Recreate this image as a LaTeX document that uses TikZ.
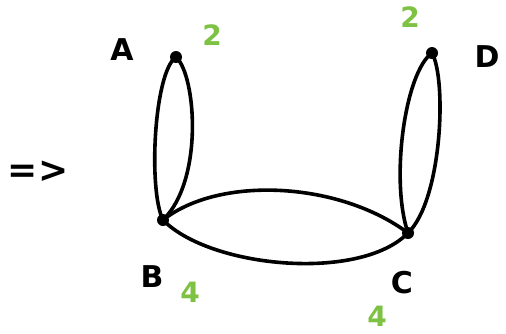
\documentclass[tikz,border=0pt]{standalone}
\usepackage{fontspec}
\setsansfont{DejaVu Sans}
\usetikzlibrary{positioning}
\definecolor{degreegreen}{HTML}{7DC242}

\begin{document}
\begin{tikzpicture}[x=1pt,y=-1pt,
  vertex/.style={circle,fill=black,inner sep=0pt,minimum size=12pt},
  edge/.style={line width=3.6pt,line cap=round},
  vname/.style={font=\sffamily\bfseries\fontsize{30}{30}\selectfont},
  degree/.style={font=\sffamily\bfseries\fontsize{28}{28}\selectfont,text=degreegreen}]

  \useasboundingbox (0,0) rectangle (506,333);

  % ---- Vertices ------------------------------------------------
  \node[vertex] (A) at (176,57) {};
  \node[vertex] (B) at (163,220) {};
  \node[vertex] (C) at (408,233) {};
  \node[vertex] (D) at (432,53) {};

  % Vertex names
  \node[vname] (nameA) at (122,50) {A};
  \node[vname] (nameB) at (152,277) {B};
  \node[vname] (nameC) at (402,283) {C};
  \node[vname] (nameD) at (487,57) {D};

  % Degrees
  \node[degree] (degA) at (212,35) {2};
  \node[degree] (degD) at (410,17) {2};
  \node[degree] (degB) at (190,292) {4};
  \node[degree] (degC) at (377,316) {4};

  % ---- Double edges --------------------------------------------
  % A -- B
  \draw[edge] (A.center) .. controls (154,72) and (148,190) .. (B.center);
  \draw[edge] (A.center) .. controls (196,75) and (204,180) .. (B.center);
  % B -- C
  \draw[edge] (B.center) .. controls (220,175) and (340,182) .. (C.center);
  \draw[edge] (B.center) .. controls (210,268) and (360,282) .. (C.center);
  % C -- D
  \draw[edge] (C.center) .. controls (390,180) and (405,72) .. (D.center);
  \draw[edge] (C.center) .. controls (442,200) and (447,80) .. (D.center);

  % Implication sign
  \node[font=\sffamily\bfseries\fontsize{36}{36}\selectfont] (implies) at (38,172) {=>};

\end{tikzpicture}
\end{document}
